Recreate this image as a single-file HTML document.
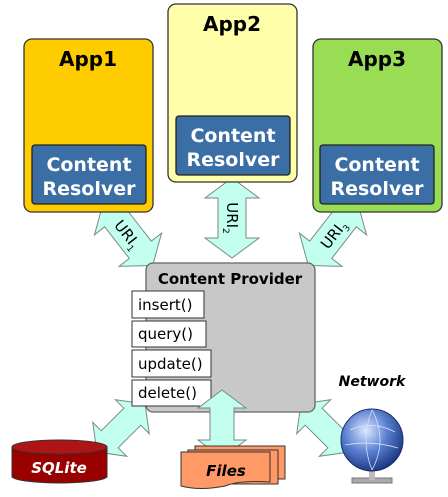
<!DOCTYPE html>
<html><head><style>
body{margin:0;background:#fff;}
svg{display:block;font-family:"DejaVu Sans","Liberation Sans",sans-serif;}
</style></head><body>
<svg width="448" height="497" viewBox="0 0 448 497" xmlns="http://www.w3.org/2000/svg">
<defs>
<polygon id="da" points="-40,0 -20,-27 -20,-14 20,-14 20,-27 40,0 20,27 20,14 -20,14 -20,27" fill="#C2FFEE" stroke="#7a8a86" stroke-width="1"/>
<polygon id="db" points="-34,0 -16,-24 -16,-12 16,-12 16,-24 34,0 16,24 16,12 -16,12 -16,24" fill="#C2FFEE" stroke="#7a8a86" stroke-width="1"/>
<radialGradient id="gl" cx="0.4" cy="0.35" r="0.7"><stop offset="0" stop-color="#dfe8ff"/><stop offset="0.5" stop-color="#5a7fd0"/><stop offset="1" stop-color="#15307a"/></radialGradient>
</defs>
<g transform="translate(128,234) rotate(52)"><use href="#da"/><text x="0" y="6" font-size="15" text-anchor="middle" fill="#000">URI<tspan font-size="9" dy="4">1</tspan></text></g>
<g transform="translate(232,218) rotate(90)"><use href="#da"/><text x="0" y="5" font-size="15" text-anchor="middle" fill="#000">URI<tspan font-size="9" dy="4">2</tspan></text></g>
<g transform="translate(333,234) rotate(-52)"><use href="#da"/><text x="0" y="6" font-size="15" text-anchor="middle" fill="#000">URI<tspan font-size="9" dy="4">3</tspan></text></g>
<g transform="translate(121,428) rotate(-45)"><use href="#db"/></g>
<g transform="translate(325,428) rotate(45)"><use href="#db"/></g>
<rect x="24" y="39" width="129" height="173" rx="8" fill="#FFCC00" stroke="#333" stroke-width="1.3"/>
<text x="88" y="66" font-size="20" font-weight="bold" text-anchor="middle">App1</text>
<rect x="32" y="145" width="114" height="59" rx="3" fill="#3A6EA5" stroke="#222" stroke-width="1.3"/>
<text x="89" y="171" font-size="19" font-weight="bold" fill="#fff" text-anchor="middle">Content</text>
<text x="89" y="195" font-size="19" font-weight="bold" fill="#fff" text-anchor="middle">Resolver</text>
<rect x="168" y="4" width="129" height="178" rx="8" fill="#FFFFAA" stroke="#333" stroke-width="1.3"/>
<text x="232" y="31" font-size="20" font-weight="bold" text-anchor="middle">App2</text>
<rect x="176" y="116" width="114" height="59" rx="3" fill="#3A6EA5" stroke="#222" stroke-width="1.3"/>
<text x="233" y="142" font-size="19" font-weight="bold" fill="#fff" text-anchor="middle">Content</text>
<text x="233" y="166" font-size="19" font-weight="bold" fill="#fff" text-anchor="middle">Resolver</text>
<rect x="313" y="39" width="129" height="173" rx="8" fill="#99DD55" stroke="#333" stroke-width="1.3"/>
<text x="377" y="66" font-size="20" font-weight="bold" text-anchor="middle">App3</text>
<rect x="320" y="145" width="114" height="59" rx="3" fill="#3A6EA5" stroke="#222" stroke-width="1.3"/>
<text x="377" y="171" font-size="19" font-weight="bold" fill="#fff" text-anchor="middle">Content</text>
<text x="377" y="195" font-size="19" font-weight="bold" fill="#fff" text-anchor="middle">Resolver</text>
<rect x="146" y="263" width="169" height="149" rx="7" fill="#C8C8C8" stroke="#666" stroke-width="1.3"/>
<text x="230" y="284" font-size="15" font-weight="bold" text-anchor="middle">Content Provider</text>
<g font-size="15" fill="#000">
<rect x="132" y="291" width="72" height="27" fill="#fff" stroke="#333"/><text x="138" y="310">insert()</text>
<rect x="132" y="321" width="74" height="26" fill="#fff" stroke="#333"/><text x="138" y="339">query()</text>
<rect x="132" y="350" width="79" height="27" fill="#fff" stroke="#333"/><text x="138" y="369">update()</text>
<rect x="132" y="380" width="79" height="26" fill="#fff" stroke="#333"/><text x="138" y="398">delete()</text>
</g>
<g transform="translate(222,424) rotate(90)"><use href="#db"/></g>
<path d="M12,447 L12,477 A48,7 0 0 0 107,477 L107,447 Z" fill="#990000" stroke="#333"/>
<ellipse cx="59.5" cy="447" rx="47.5" ry="7" fill="#b01515" stroke="#333"/>
<text x="59" y="473" font-size="15" font-weight="bold" font-style="italic" fill="#fff" text-anchor="middle">SQLite</text>
<rect x="195" y="446" width="90" height="33" fill="#FF9966" stroke="#333"/>
<rect x="188" y="450" width="90" height="34" fill="#FF9966" stroke="#333"/>
<path d="M181,452 L270,452 L270,482 Q240,480 225,486 Q200,491 181,486 Z" fill="#FF9966" stroke="#333"/>
<text x="226" y="476" font-size="15" font-weight="bold" font-style="italic" text-anchor="middle">Files</text>
<text x="372" y="386" font-size="14" font-weight="bold" font-style="italic" text-anchor="middle">Network</text>
<rect x="352" y="478" width="40" height="5" fill="#aaa" stroke="#777"/>
<rect x="369" y="468" width="6" height="12" fill="#bbb"/>
<circle cx="372" cy="440" r="31" fill="url(#gl)" stroke="#1a2d6a"/>
<path d="M350,430 Q372,420 395,432 M345,445 Q372,440 398,448 M372,410 Q360,440 372,470 M372,410 Q388,440 372,470" fill="none" stroke="#cfe0ff" stroke-width="0.8"/>
</svg>
</body></html>
